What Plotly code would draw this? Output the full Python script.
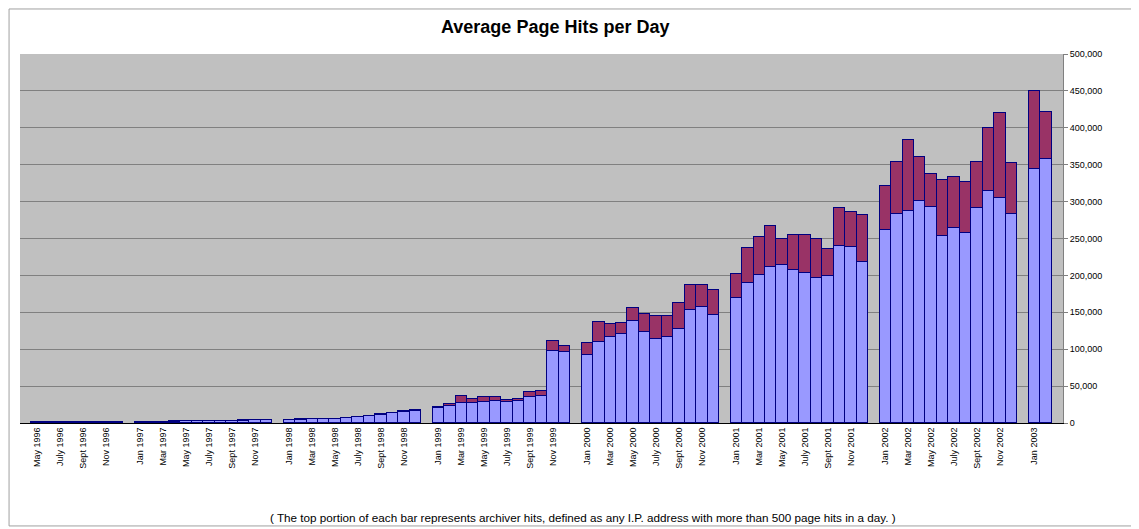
import plotly.graph_objects as go

# ---- data (values in hits per day) ----
months = (
    ["May 1996", "June 1996", "July 1996", "Aug 1996", "Sept 1996", "Oct 1996", "Nov 1996", "Dec 1996"]
    + [f"{m} {y}" for y in range(1997, 2003) for m in
       ["Jan", "Feb", "Mar", "Apr", "May", "June", "July", "Aug", "Sept", "Oct", "Nov", "Dec"]]
    + ["Jan 2003", "Feb 2003"]
)

regular_hits = [
    # 1996 (May-Dec)
    800, 900, 1000, 1000, 1100, 1200, 1300, 1300,
    # 1997
    1500, 1600, 1800, 2000, 2100, 2300, 2500, 2700, 3000, 3300, 3600, 4000,
    # 1998
    4000, 4500, 5000, 5500, 5500, 6500, 7500, 9000, 11000, 13000, 15000, 16500,
    # 1999
    20000, 23000, 27000, 27000, 29000, 30000, 28000, 30000, 35000, 37000, 98000, 96000,
    # 2000
    92000, 110000, 117000, 121000, 138000, 123000, 114000, 117000, 128000, 153000, 157000, 147000,
    # 2001
    170000, 190000, 200000, 212000, 214000, 208000, 203000, 197000, 199000, 240000, 239000, 218000,
    # 2002
    261000, 283000, 287000, 301000, 293000, 254000, 264000, 257000, 292000, 314000, 305000, 283000,
    # 2003
    344000, 358000,
]

archiver_hits = [
    # 1996
    0, 0, 0, 0, 0, 0, 0, 0,
    # 1997
    100, 100, 100, 150, 150, 150, 200, 200, 200, 250, 250, 300,
    # 1998
    300, 300, 400, 400, 500, 500, 500, 600, 700, 800, 1000, 1200,
    # 1999
    2000, 2500, 9000, 5000, 6000, 5000, 2500, 3000, 7000, 7000, 13000, 9000,
    # 2000
    16000, 27000, 17000, 14000, 18000, 25000, 31000, 28000, 35000, 34000, 30000, 33000,
    # 2001
    32000, 47000, 52000, 55000, 36000, 47000, 52000, 53000, 37000, 52000, 47000, 64000,
    # 2002
    60000, 70000, 96000, 60000, 45000, 75000, 70000, 70000, 62000, 86000, 115000, 69000,
    # 2003
    106000, 64000,
]

labelled_months = ("Jan", "Mar", "May", "July", "Sept", "Nov")

# ---- category slots: empty slot at start, between years, and at end ----
slots = ["Apr 1996"]
reg_vals, arc_vals = [None], [None]
for i, m in enumerate(months):
    if m.startswith("Jan ") and i > 0:
        slots.append("gap " + m.split()[1])
        reg_vals.append(None)
        arc_vals.append(None)
    slots.append(m)
    reg_vals.append(regular_hits[i])
    arc_vals.append(archiver_hits[i])
slots.append("Mar 2003")
reg_vals.append(None)
arc_vals.append(None)

tickvals = [m for m in months if m.split()[0] in labelled_months]

fig = go.Figure()
fig.add_trace(go.Bar(
    x=slots, y=reg_vals, name="Page hits",
    marker=dict(color="#9999FF", line=dict(color="#000080", width=1)),
))
fig.add_trace(go.Bar(
    x=slots, y=arc_vals, name="Archiver hits",
    marker=dict(color="#993366", line=dict(color="#000080", width=1)),
))

font_family = "Liberation Sans, Arial, sans-serif"

fig.update_layout(
    width=1131, height=521,
    margin=dict(l=12, r=76, t=46, b=106),
    barmode="stack", bargap=0,
    showlegend=False,
    paper_bgcolor="white",
    plot_bgcolor="#C0C0C0",
    font=dict(family=font_family, color="black"),
    xaxis=dict(
        type="category", categoryorder="array", categoryarray=slots,
        tickmode="array", tickvals=tickvals, ticktext=tickvals,
        tickangle=-90, tickfont=dict(size=9),
        showline=True, linecolor="black", linewidth=1, mirror=False,
        ticks="", showgrid=False,
    ),
    yaxis=dict(
        side="right", range=[0, 500000], dtick=50000, tickformat=",",
        tickfont=dict(size=9),
        showgrid=True, gridcolor="#808080", gridwidth=1,
        showline=True, linecolor="#808080", ticks="outside", ticklen=4,
        tickcolor="#808080", zeroline=False,
    ),
    annotations=[
        dict(text="<b>Average Page Hits per Day</b>", xref="paper", yref="paper",
             x=0.513, y=1.073, xanchor="center", yanchor="middle",
             showarrow=False, font=dict(size=18, family=font_family)),
        dict(text="( The top portion of each bar represents archiver hits, defined as any I.P. address with more than 500 page hits in a day. )",
             xref="paper", yref="paper", x=0.54, y=-0.255,
             xanchor="center", yanchor="middle", showarrow=False,
             font=dict(size=11.7, family=font_family)),
    ],
    shapes=[
        dict(type="rect", xref="paper", yref="paper",
             x0=-0.0105, x1=1.066, y0=-0.279, y1=1.122,
             line=dict(color="#A0A0A0", width=1), fillcolor="rgba(0,0,0,0)",
             layer="below"),
    ],
)

fig.write_html("out.html")
